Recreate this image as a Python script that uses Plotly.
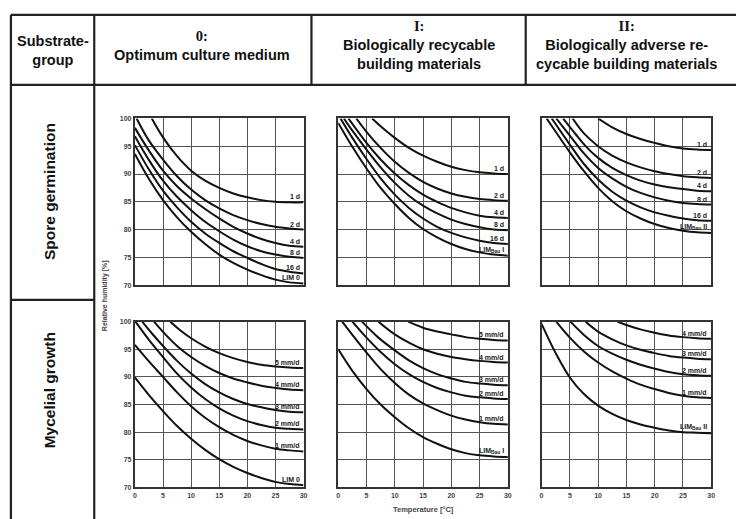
import plotly.graph_objects as go

W, H = 737, 519

# ---------------- data ----------------
col_titles = ["0:<br>Optimum culture medium",
              "I:<br>Biologically recycable<br>building materials",
              "II:<br>Biologically adverse re-<br>cycable building materials"]
row_titles = ["Spore germination", "Mycelial growth"]
x_ticks = [0, 5, 10, 15, 20, 25, 30]
y_ticks = [70, 75, 80, 85, 90, 95, 100]
t_full = [0, 2.5, 5, 7.5, 10, 12.5, 15, 17.5, 20, 22.5, 25, 27.5, 30]

# Spore germination, substrate group 0
sg0_labels = ["1 d", "2 d", "4 d", "8 d", "16 d", "LIM 0"]
sg0_x = [[3, 5, 7.5, 10, 12.5, 15, 17.5, 20, 22.5, 25, 27.5, 30],
         [0.3, 2.5, 5, 7.5, 10, 12.5, 15, 17.5, 20, 22.5, 25, 27.5, 30],
         t_full, t_full, t_full, t_full]
sg0_y = [[100, 96.6, 93.2, 90.6, 88.8, 87.5, 86.5, 85.8, 85.3, 85.0, 84.9, 84.9],
         [100, 96.0, 92.6, 89.6, 87.2, 85.3, 83.8, 82.6, 81.7, 81.0, 80.5, 80.2, 80.0],
         [98.3, 94.2, 90.6, 87.8, 85.6, 83.7, 82.0, 80.5, 79.3, 78.3, 77.6, 77.1, 76.9],
         [96.8, 92.5, 88.8, 85.9, 83.5, 81.4, 79.7, 78.2, 77.0, 76.1, 75.5, 75.1, 74.9],
         [95.2, 90.8, 87.0, 84.0, 81.4, 79.3, 77.6, 76.1, 74.9, 73.8, 72.9, 72.4, 72.1],
         [93.6, 89.1, 85.3, 82.2, 79.6, 77.4, 75.5, 74.0, 72.8, 71.8, 71.0, 70.5, 70.3]]

# Spore germination, substrate group I
sg1_labels = ["1 d", "2 d", "4 d", "8 d", "16 d", "LIM<sub>Bau</sub> I"]
sg1_x = [[6, 7.5, 10, 12.5, 15, 17.5, 20, 22.5, 25, 27.5, 30],
         [3.2, 5, 7.5, 10, 12.5, 15, 17.5, 20, 22.5, 25, 27.5, 30],
         [1.8, 5, 7.5, 10, 12.5, 15, 17.5, 20, 22.5, 25, 27.5, 30],
         [1.0, 2.5, 5, 7.5, 10, 12.5, 15, 17.5, 20, 22.5, 25, 27.5, 30],
         [0.4, 2.5, 5, 7.5, 10, 12.5, 15, 17.5, 20, 22.5, 25, 27.5, 30],
         t_full]
sg1_y = [[100, 98.6, 96.5, 94.7, 93.3, 92.2, 91.3, 90.7, 90.3, 90.1, 90.0],
         [100, 97.6, 94.7, 92.2, 90.2, 88.6, 87.4, 86.5, 85.9, 85.5, 85.3, 85.2],
         [100, 95.6, 92.6, 90.1, 88.0, 86.3, 85.0, 83.9, 83.1, 82.5, 82.2, 82.1],
         [100, 97.8, 94.4, 91.2, 88.4, 86.1, 84.3, 82.9, 81.8, 81.0, 80.4, 80.0, 79.9],
         [100, 96.5, 92.7, 89.2, 86.3, 83.9, 82.0, 80.5, 79.4, 78.6, 78.0, 77.6, 77.4],
         [99.2, 94.9, 91.0, 87.5, 84.6, 82.1, 80.1, 78.6, 77.4, 76.5, 75.9, 75.5, 75.3]]

# Spore germination, substrate group II
sg2_labels = ["1 d", "2 d", "4 d", "8 d", "16 d", "LIM<sub>Bau</sub> II"]
sg2_x = [[10, 12.5, 15, 17.5, 20, 22.5, 25, 27.5, 30],
         [5.5, 7.5, 10, 12.5, 15, 17.5, 20, 22.5, 25, 27.5, 30],
         [3.8, 6, 8, 10, 12.5, 15, 17.5, 20, 22.5, 25, 27.5, 30],
         [2.6, 5, 7.5, 10, 12.5, 15, 17.5, 20, 22.5, 25, 27.5, 30],
         [1.8, 5, 7.5, 10, 12.5, 15, 17.5, 20, 22.5, 25, 27.5, 30],
         [0.9, 2.5, 5, 7.5, 10, 12.5, 15, 17.5, 20, 22.5, 25, 27.5, 30]]
sg2_y = [[100, 98.4, 97.2, 96.3, 95.6, 95.0, 94.6, 94.4, 94.3],
         [100, 97.3, 95.0, 93.3, 92.1, 91.2, 90.5, 90.0, 89.6, 89.4, 89.3],
         [100, 97.2, 94.8, 92.9, 91.1, 89.8, 88.8, 88.1, 87.6, 87.3, 87.0, 86.9],
         [100, 96.9, 93.7, 91.1, 89.2, 87.7, 86.6, 85.8, 85.2, 84.8, 84.6, 84.5],
         [100, 95.3, 91.8, 89.0, 86.8, 85.2, 84.0, 83.1, 82.5, 82.0, 81.7, 81.6],
         [100, 97.6, 93.9, 90.5, 87.5, 85.1, 83.3, 82.0, 81.0, 80.3, 79.8, 79.5, 79.4]]

# Mycelial growth, substrate group 0
mg0_labels = ["5 mm/d", "4 mm/d", "3 mm/d", "2 mm/d", "1 mm/d", "LIM 0"]
mg0_x = [[6.3, 8, 10, 12.5, 15, 17.5, 20, 22.5, 25, 27.5, 30],
         [3.4, 5.5, 7.5, 10, 12.5, 15, 17.5, 20, 22.5, 25, 27.5, 30],
         [1.3, 3, 5, 7.5, 10, 12.5, 15, 17.5, 20, 22.5, 25, 27.5, 30],
         [0.1, 2.5, 5, 7.5, 10, 12.5, 15, 17.5, 20, 22.5, 25, 27.5, 30],
         t_full, t_full]
mg0_y = [[100, 98.5, 97.0, 95.5, 94.3, 93.4, 92.7, 92.2, 91.9, 91.7, 91.6],
         [100, 97.6, 95.6, 93.6, 92.0, 90.7, 89.7, 89.0, 88.4, 88.0, 87.7, 87.6],
         [100, 97.9, 95.6, 92.9, 90.6, 88.7, 87.2, 86.0, 85.1, 84.5, 84.0, 83.7, 83.6],
         [100, 96.7, 93.6, 90.6, 88.1, 86.0, 84.3, 83.0, 82.0, 81.3, 80.8, 80.6, 80.5],
         [95.8, 92.8, 90.0, 87.2, 84.7, 82.6, 80.9, 79.5, 78.4, 77.6, 77.0, 76.7, 76.5],
         [89.9, 86.7, 83.8, 81.1, 78.8, 76.8, 75.1, 73.7, 72.6, 71.7, 71.0, 70.6, 70.4]]

# Mycelial growth, substrate group I
mg1_labels = ["5 mm/d", "4 mm/d", "3 mm/d", "2 mm/d", "1 mm/d", "LIM<sub>Bau</sub> I"]
mg1_x = [[12.4, 15, 17.5, 20, 22.5, 25, 27.5, 30],
         [7.1, 10, 12.5, 15, 17.5, 20, 22.5, 25, 27.5, 30],
         [4.2, 7, 10, 12.5, 15, 17.5, 20, 22.5, 25, 27.5, 30],
         [2.5, 5, 7.5, 10, 12.5, 15, 17.5, 20, 22.5, 25, 27.5, 30],
         [0.7, 2.5, 5, 7.5, 10, 12.5, 15, 17.5, 20, 22.5, 25, 27.5, 30],
         t_full]
mg1_y = [[100, 98.9, 98.2, 97.7, 97.2, 96.9, 96.7, 96.6],
         [100, 97.7, 96.2, 95.0, 94.2, 93.6, 93.2, 92.9, 92.7, 92.6],
         [100, 97.2, 94.8, 93.0, 91.6, 90.5, 89.7, 89.1, 88.8, 88.6, 88.5],
         [100, 97.1, 94.5, 92.3, 90.5, 89.1, 88.0, 87.2, 86.6, 86.3, 86.1, 86.0],
         [100, 97.6, 94.4, 91.4, 88.9, 86.8, 85.2, 84.0, 83.0, 82.3, 81.8, 81.5, 81.4],
         [95.0, 91.1, 87.8, 85.0, 82.7, 80.7, 79.1, 77.9, 76.9, 76.2, 75.8, 75.6, 75.5]]

# Mycelial growth, substrate group II
mg2_labels = ["4 mm/d", "3 mm/d", "2 mm/d", "1 mm/d", "LIM<sub>Bau</sub> II"]
mg2_x = [[13.4, 15, 17.5, 20, 22.5, 25, 27.5, 30],
         [7.8, 10, 12.5, 15, 17.5, 20, 22.5, 25, 27.5, 30],
         [5.1, 7.5, 10, 12.5, 15, 17.5, 20, 22.5, 25, 27.5, 30],
         [2.6, 5, 7.5, 10, 12.5, 15, 17.5, 20, 22.5, 25, 27.5, 30],
         t_full]
mg2_y = [[100, 99.4, 98.6, 98.0, 97.5, 97.2, 97.0, 96.9],
         [100, 98.2, 96.8, 95.7, 94.9, 94.3, 93.8, 93.5, 93.3, 93.2],
         [100, 97.6, 95.6, 94.2, 93.1, 92.2, 91.5, 90.9, 90.5, 90.3, 90.2],
         [100, 97.1, 94.6, 92.6, 91.0, 89.7, 88.6, 87.8, 87.1, 86.6, 86.3, 86.2],
         [99.6, 94.3, 89.9, 86.9, 84.8, 83.3, 82.2, 81.4, 80.8, 80.3, 80.0, 79.9, 79.8]]

panels = [(sg0_labels, sg0_x, sg0_y), (sg1_labels, sg1_x, sg1_y), (sg2_labels, sg2_x, sg2_y),
          (mg0_labels, mg0_x, mg0_y), (mg1_labels, mg1_x, mg1_y), (mg2_labels, mg2_x, mg2_y)]

# ---------------- layout geometry (pixels) ----------------
col_px = [(134, 304), (339, 510), (544, 715)]
row_px = [(116, 285), (322, 490)]

def px(x):
    return x / W

def py(y):
    return 1 - y / H

FONT = "Liberation Sans, Arial, sans-serif"
fig = go.Figure()
layout_axes = {}
annotations = []

for i, (labels, xs, ys) in enumerate(panels):
    r, c = divmod(i, 3)
    n = i + 1
    xa = "x" if n == 1 else f"x{n}"
    ya = "y" if n == 1 else f"y{n}"
    for lab, xv, yv in zip(labels, xs, ys):
        fig.add_trace(go.Scatter(x=xv, y=yv, xaxis=xa, yaxis=ya, mode="lines",
                                 line=dict(color="#111", width=2, shape="spline", smoothing=1.0),
                                 showlegend=False, hoverinfo="skip"))
        annotations.append(dict(x=30, y=yv[-1], xref=xa, yref=ya, text=f"<b>{lab}</b>",
                                showarrow=False, xanchor="right", yanchor="bottom",
                                xshift=-2, yshift=0,
                                font=dict(family=FONT, size=7, color="#222")))
    common = dict(showgrid=True, gridcolor="#555", gridwidth=1.4, showline=True, mirror=True,
                  linecolor="#333", linewidth=2, zeroline=False, ticks="",
                  tickfont=dict(family=FONT, size=7, color="#444", weight="bold"))
    layout_axes["xaxis" if n == 1 else f"xaxis{n}"] = dict(
        common, domain=[px(col_px[c][0]), px(col_px[c][1])], anchor=ya,
        range=[0, 30], tickvals=x_ticks, showticklabels=(r == 1))
    layout_axes["yaxis" if n == 1 else f"yaxis{n}"] = dict(
        common, domain=[py(row_px[r][1]), py(row_px[r][0])], anchor=xa,
        range=[70, 100], tickvals=y_ticks, showticklabels=(c == 0))

# ---------------- table frame ----------------
LC = "#222"
shapes = []
def line(x0, y0, x1, y1, w=2.2):
    shapes.append(dict(type="line", xref="paper", yref="paper", x0=px(x0), y0=py(y0),
                       x1=px(x1), y1=py(y1), line=dict(color=LC, width=w)))

line(9, 11, 740, 11)
line(9, 82, 740, 82)
line(9, 11, 9, 522)
line(93, 11, 93, 522)
line(312, 11, 312, 82)
line(528, 11, 528, 82)
line(9, 300, 93, 300)

# header texts
hdr_font = dict(family=FONT, size=14.5, color="#111")
annotations.append(dict(x=px(51), y=py(47), xref="paper", yref="paper",
                        text="<b>Substrate-<br>group</b>", showarrow=False, font=hdr_font,
                        xanchor="center", yanchor="middle"))
col_centers = [202, 420, 630]
col_ymid = [42, 42, 42]
for t, cx, cy in zip(col_titles, col_centers, col_ymid):
    head, rest = t.split("<br>", 1)
    txt = f"<b><span style='font-family:Liberation Serif, Times New Roman, serif'>{head}</span><br>{rest}</b>"
    annotations.append(dict(x=px(cx), y=py(cy), xref="paper", yref="paper", text=txt,
                            showarrow=False, font=hdr_font, xanchor="center", yanchor="middle"))

row_centers = [190, 392]
for t, cy in zip(row_titles, row_centers):
    annotations.append(dict(x=px(48), y=py(cy), xref="paper", yref="paper", text=f"<b>{t}</b>",
                            showarrow=False, textangle=-90, xanchor="center", yanchor="middle",
                            font=dict(family=FONT, size=15.5, color="#111")))

annotations.append(dict(x=px(104), y=py(296), xref="paper", yref="paper",
                        text="<b>Relative humidity [%]</b>", showarrow=False, textangle=-90,
                        xanchor="center", yanchor="middle",
                        font=dict(family=FONT, size=7, color="#444")))
annotations.append(dict(x=px(425), y=py(512), xref="paper", yref="paper",
                        text="<b>Temperature [°C]</b>", showarrow=False,
                        xanchor="center", yanchor="middle",
                        font=dict(family=FONT, size=7.5, color="#444")))

fig.update_layout(width=W, height=H, margin=dict(l=0, r=0, t=0, b=0),
                  paper_bgcolor="white", plot_bgcolor="white",
                  shapes=shapes, annotations=annotations, **layout_axes)

fig.write_html("out.html", config={"displayModeBar": False},
               post_script="document.body.style.margin='0px';document.body.style.overflow='hidden';")
